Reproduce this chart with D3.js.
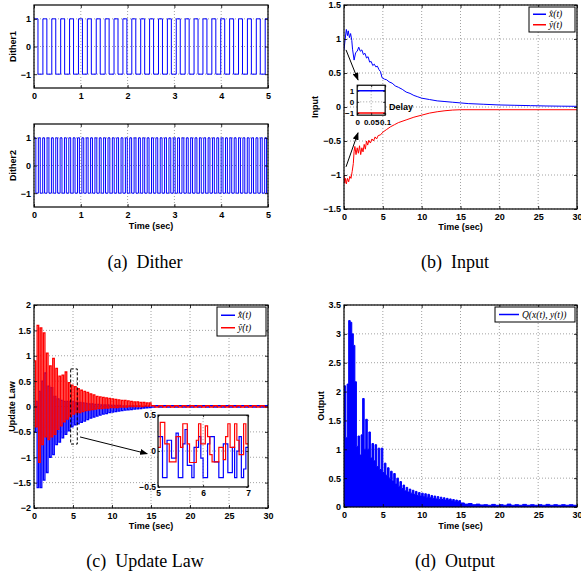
<!DOCTYPE html>
<html lang="en">
<head>
<meta charset="UTF-8">
<title>Dither, Input, Update Law, Output</title>
<script src="https://d3js.org/d3.v7.min.js"></script>
<style>
  body { margin: 0; background: #fff; }
  svg { display: block; }
  .axis-label { font: bold 9px "Liberation Sans", Arial, sans-serif; }
  .caption { font: 18px "Liberation Serif", "Times New Roman", serif; }
  .legend-text { font: italic 9.5px "Liberation Serif", "Times New Roman", serif; }
  .grid line { stroke: #8a8a8a; stroke-dasharray: 1,2; stroke-width: 0.8; }
</style>
</head>
<body>
<svg width="581" height="578"></svg>
<script>
// ---- tick labels ----
const timeTicks5 = [0, 1, 2, 3, 4, 5];
const timeTicks30 = [0, 5, 10, 15, 20, 25, 30];
const ditherTicks = [-1, 0, 1];
const inputTicks = [-1.5, -1, -0.5, 0, 0.5, 1, 1.5];
const updateTicks = [-2, -1.5, -1, -0.5, 0, 0.5, 1, 1.5, 2];
const outputTicks = [0, 0.5, 1, 1.5, 2, 2.5, 3, 3.5];
const delayTicksX = [0, 0.05, 0.1];
const delayTicksY = [-1, 0, 1];
const zoomTicksX = [5, 6, 7];
const zoomTicksY = [-0.5, 0, 0.5];

// ---- dither: switching times (signal starts at +1) ----
const dither1Edges = [0.085, 0.19, 0.275, 0.38, 0.465, 0.57, 0.655, 0.76, 0.845, 0.95, 1.035,
  1.14, 1.225, 1.33, 1.415, 1.52, 1.605, 1.71, 1.795, 1.9, 1.985, 2.09, 2.175, 2.28, 2.365,
  2.47, 2.555, 2.66, 2.745, 2.85, 2.935, 3.04, 3.125, 3.23, 3.315, 3.42, 3.505, 3.61, 3.695,
  3.8, 3.885, 3.99, 4.075, 4.18, 4.265, 4.37, 4.455, 4.56, 4.645, 4.75, 4.835, 4.94];
const dither2Edges = [0.04, 0.093, 0.133, 0.186, 0.226, 0.279, 0.319, 0.372, 0.412, 0.465, 0.505,
  0.558, 0.598, 0.651, 0.691, 0.744, 0.784, 0.837, 0.877, 0.93, 0.97, 1.023, 1.063, 1.116, 1.156,
  1.209, 1.249, 1.302, 1.342, 1.395, 1.435, 1.488, 1.528, 1.581, 1.621, 1.674, 1.714, 1.767, 1.807,
  1.86, 1.9, 1.953, 1.993, 2.046, 2.086, 2.139, 2.179, 2.232, 2.272, 2.325, 2.365, 2.418, 2.458,
  2.511, 2.551, 2.604, 2.644, 2.697, 2.737, 2.79, 2.83, 2.883, 2.923, 2.976, 3.016, 3.069, 3.109,
  3.162, 3.202, 3.255, 3.295, 3.348, 3.388, 3.441, 3.481, 3.534, 3.574, 3.627, 3.667, 3.72, 3.76,
  3.813, 3.853, 3.906, 3.946, 3.999, 4.039, 4.092, 4.132, 4.185, 4.225, 4.278, 4.318, 4.371, 4.411,
  4.464, 4.504, 4.557, 4.597, 4.65, 4.69, 4.743, 4.783, 4.836, 4.876, 4.929, 4.969];

// ---- input (b): [time, value] ----
const inputX = [[0, 0.84], [0.15, 1.0], [0.3, 1.14], [0.45, 1.05], [0.55, 1.12], [0.7, 1.02], [0.85, 1.08],
  [1.0, 0.98], [1.1, 0.85], [1.3, 0.69], [1.5, 0.8], [1.7, 0.82], [1.9, 0.88], [2.1, 0.82], [2.3, 0.84],
  [2.5, 0.77], [2.7, 0.79], [2.9, 0.72], [3.1, 0.74], [3.3, 0.66], [3.5, 0.67], [3.7, 0.61], [3.9, 0.63],
  [4.1, 0.59], [4.3, 0.6], [4.5, 0.55], [4.7, 0.52], [4.9, 0.43], [5.2, 0.41], [5.5, 0.4], [5.8, 0.37],
  [6.2, 0.35], [6.6, 0.31], [7, 0.29], [7.5, 0.26], [8, 0.22], [8.5, 0.2], [9, 0.17], [9.5, 0.15],
  [10, 0.13], [11, 0.11], [12, 0.09], [13, 0.08], [14, 0.07], [15, 0.06], [16, 0.05], [18, 0.04],
  [20, 0.03], [22, 0.025], [24, 0.02], [26, 0.015], [28, 0.012], [30, 0.01]];
const inputY = [[0, -1.0], [0.1, -1.12], [0.2, -1.05], [0.3, -1.13], [0.45, -1.05], [0.6, -1.1],
  [0.75, -1.02], [0.9, -1.05], [1.05, -0.95], [1.2, -0.83], [1.3, -0.65], [1.4, -0.58], [1.55, -0.7],
  [1.7, -0.6], [1.85, -0.68], [2.0, -0.57], [2.15, -0.7], [2.3, -0.6], [2.45, -0.66], [2.6, -0.55],
  [2.75, -0.62], [2.9, -0.5], [3.05, -0.56], [3.2, -0.49], [3.4, -0.53], [3.6, -0.47], [3.8, -0.5],
  [4.0, -0.44], [4.2, -0.47], [4.4, -0.42], [4.7, -0.41], [5, -0.37], [5.5, -0.33], [6, -0.29],
  [6.5, -0.26], [7, -0.23], [8, -0.19], [9, -0.15], [10, -0.12], [11, -0.09], [12, -0.07],
  [13, -0.055], [14, -0.045], [15, -0.04], [20, -0.04], [30, -0.04]];
const delayX = [[0, 1], [0.1, 1]];
const delayY = [[0, -1], [0.1, -1]];

// ---- update law (c): samples every 0.2 s on 0..15, then every 0.5 s on 15..30 ----
const updateRed = [0.9, -0.4, 1.6, -1.1, 1.55, -0.75, 1.45, -0.6, 1.05, -0.65, 0.8, -0.6, 0.95, -0.55,
  0.75, -0.45, 0.6, -0.38, 0.62, -0.3, 0.68, -0.25, 0.47, -0.2, 0.42, -0.15, 0.39, -0.12, 0.35, -0.12,
  0.32, -0.1, 0.3, -0.08, 0.28, -0.07, 0.25, -0.06, 0.23, -0.05, 0.2, -0.04, 0.19, -0.04, 0.18, -0.03,
  0.17, -0.03, 0.16, -0.02, 0.15, -0.02, 0.14, -0.02, 0.13, -0.01, 0.12, -0.01, 0.12, -0.01, 0.11, 0,
  0.1, 0, 0.09, 0, 0.09, 0, 0.08, 0, 0.08, 0.01, 0.07, 0.01, 0.07];
const updateBlue = [-0.5, 0.1, -1.6, 0.3, -1.6, 0.5, -1.45, 0.66, -1.3, 0.4, -1.0, 0.37, -0.95, 0.2,
  -0.75, 0.15, -0.7, 0.12, -0.62, 0.1, -0.55, 0.1, -0.48, 0.1, -0.4, 0.1, -0.36, 0.08, -0.34, 0.08,
  -0.31, 0.07, -0.29, 0.06, -0.26, 0.05, -0.23, 0.05, -0.21, 0.04, -0.19, 0.04, -0.17, 0.03, -0.15, 0.03,
  -0.14, 0.03, -0.12, 0.02, -0.11, 0.02, -0.1, 0.02, -0.09, 0.02, -0.08, 0.01, -0.07, 0.01, -0.065, 0.01,
  -0.06, 0.01, -0.05, 0.01, -0.045, 0.01, -0.04, 0, -0.03, 0, -0.025, 0, -0.02];
const updateRedTail = [0.015, -0.01, 0.015, -0.01, 0.015, -0.01, 0.015, -0.01, 0.015, -0.01, 0.015, -0.01,
  0.015, -0.01, 0.015, -0.01, 0.015, -0.01, 0.015, -0.01, 0.015, -0.01, 0.015, -0.01, 0.015, -0.01,
  0.015, -0.01, 0.015, -0.01];
const updateBlueTail = [-0.01, 0.015, -0.01, 0.015, -0.01, 0.015, -0.01, 0.015, -0.01, 0.015, -0.01, 0.015,
  -0.01, 0.015, -0.01, 0.015, -0.01, 0.015, -0.01, 0.015, -0.01, 0.015, -0.01, 0.015, -0.01, 0.015,
  -0.01, 0.015, -0.01, 0.015];
// zoomed window 5..7 s, samples every 0.05 s
const zoomRed = [0.05, 0.4, 0.4, 0.1, 0.1, -0.15, -0.15, -0.15, 0.2, 0.2, 0.05, 0.38, 0.38, 0.1, -0.16,
  -0.16, -0.16, 0.15, 0.38, 0.1, 0.1, 0.35, 0.2, -0.05, -0.15, -0.15, -0.15, 0.05, 0.05, -0.12, 0.2,
  0.38, 0.05, 0.05, 0.38, 0.15, -0.05, -0.05, 0.38, 0.1];
const zoomBlue = [0.2, 0.2, -0.37, -0.37, 0.15, 0.15, -0.1, -0.1, 0.25, -0.37, -0.37, 0.1, 0.3, -0.2,
  -0.2, -0.37, 0.05, 0.05, 0.2, -0.1, -0.37, -0.37, 0.1, 0.2, 0.2, -0.15, -0.15, -0.37, -0.37, 0.1, 0.1,
  -0.3, -0.3, 0.05, -0.37, 0.0, 0.2, -0.37, -0.25, 0.05];

// ---- output (d): samples every 0.2 s on 0..15, then every 0.5 s on 15..30 ----
const outputQ = [2.1, 1.2, 2.13, 3.23, 3.2, 3.0, 2.8, 2.17, 1.05, 1.23, 0.9, 1.25, 1.88, 1.0, 1.52, 1.0,
  1.3, 0.85, 1.1, 0.8, 1.08, 0.7, 1.02, 0.65, 1.02, 0.6, 0.76, 0.55, 0.68, 0.5, 0.62, 0.45, 0.58, 0.4,
  0.5, 0.36, 0.44, 0.32, 0.38, 0.28, 0.34, 0.26, 0.31, 0.24, 0.29, 0.22, 0.27, 0.2, 0.25, 0.19, 0.24,
  0.18, 0.23, 0.17, 0.22, 0.16, 0.2, 0.15, 0.19, 0.14, 0.18, 0.13, 0.17, 0.13, 0.16, 0.12, 0.15, 0.12,
  0.14, 0.11, 0.13, 0.1, 0.12, 0.1, 0.11];
const outputQTail = [0.07, 0.05, 0.06, 0.04, 0.05, 0.035, 0.04, 0.03, 0.045, 0.03, 0.04, 0.03, 0.05, 0.03,
  0.04, 0.03, 0.045, 0.03, 0.04, 0.03, 0.04, 0.03, 0.045, 0.03, 0.04, 0.03, 0.04, 0.03, 0.04, 0.03];

const BLUE = "#0000ff", RED = "#ff0000";
const FONT = '"Liberation Sans", Arial, sans-serif';

const svg = d3.select("svg");
const defs = svg.append("defs");
defs.append("marker")
    .attr("id", "arrow")
    .attr("markerUnits", "userSpaceOnUse")
    .attr("markerWidth", 8).attr("markerHeight", 6)
    .attr("refX", 7).attr("refY", 3)
    .attr("orient", "auto")
  .append("path")
    .attr("d", "M0,0 L8,3 L0,6 Z")
    .attr("fill", "#000");

// helpers to turn the stored values into [t, v] points
const sampled = (vals, t0, dt) => vals.map((v, i) => [t0 + i * dt, v]);
const withEnd = (pts, tEnd) => pts.concat([[tEnd, pts[pts.length - 1][1]]]);
const fromEdges = (edges, tEnd) => {
    const pts = [[0, 1]];
    edges.forEach((t, i) => pts.push([t, i % 2 === 0 ? -1 : 1]));
    return withEnd(pts, tEnd);
};

const fmt = d => String(d).replace("-", "\u2212");
let clipCount = 0;

// one MATLAB style axes: white box, dotted grid, inward ticks on all sides
const makeAxes = (o) => {
    const x = d3.scaleLinear().domain(o.xDomain).range([o.left, o.right]);
    const y = d3.scaleLinear().domain(o.yDomain).range([o.bottom, o.top]);
    const fs = o.fontSize || 9;
    const root = svg.append("g");

    root.append("rect")
        .attr("x", o.left).attr("y", o.top)
        .attr("width", o.right - o.left).attr("height", o.bottom - o.top)
        .attr("fill", "#fff");

    const grid = root.append("g").attr("class", "grid");
    grid.selectAll(".gx").data(o.gridX || o.xTicks).enter().append("line")
        .attr("x1", d => x(d)).attr("x2", d => x(d))
        .attr("y1", o.top).attr("y2", o.bottom);
    grid.selectAll(".gy").data(o.gridY || o.yTicks).enter().append("line")
        .attr("x1", o.left).attr("x2", o.right)
        .attr("y1", d => y(d)).attr("y2", d => y(d));

    const id = "clip" + (clipCount++);
    defs.append("clipPath").attr("id", id).append("rect")
        .attr("x", o.left).attr("y", o.top)
        .attr("width", o.right - o.left).attr("height", o.bottom - o.top);
    const plot = root.append("g").attr("clip-path", `url(#${id})`);
    const frame = root.append("g");

    const style = g => {
        g.attr("font-family", FONT).attr("font-size", fs).attr("font-weight", "bold");
        g.select(".domain").remove();
        g.selectAll("line").attr("stroke-width", 0.8);
    };
    const tk = o.tick || 3;
    frame.append("g").attr("transform", `translate(0,${o.bottom})`)
        .call(d3.axisBottom(x).tickValues(o.xTicks).tickSize(-tk).tickPadding(o.padX || 5).tickFormat(fmt))
        .call(style);
    frame.append("g").attr("transform", `translate(0,${o.top})`)
        .call(d3.axisTop(x).tickValues(o.xTicks).tickSize(-tk).tickFormat(""))
        .call(style);
    frame.append("g").attr("transform", `translate(${o.left},0)`)
        .call(d3.axisLeft(y).tickValues(o.yTicks).tickSize(-tk).tickPadding(o.padY || 3).tickFormat(fmt))
        .call(style);
    frame.append("g").attr("transform", `translate(${o.right},0)`)
        .call(d3.axisRight(y).tickValues(o.yTicks).tickSize(-tk).tickFormat(""))
        .call(style);

    frame.append("rect")
        .attr("x", o.left).attr("y", o.top)
        .attr("width", o.right - o.left).attr("height", o.bottom - o.top)
        .attr("fill", "none").attr("stroke", "#000").attr("stroke-width", 1.2);

    return { x, y, plot, frame, o };
};

const drawLine = (ax, pts, color, step, width) => {
    const line = d3.line().x(d => ax.x(d[0])).y(d => ax.y(d[1]));
    if (step) line.curve(d3.curveStepAfter);
    ax.plot.append("path")
        .attr("d", line(pts))
        .attr("fill", "none")
        .attr("stroke", color)
        .attr("stroke-width", width || 1);
};

const yLabel = (text, cx, cy) => {
    svg.append("text").attr("class", "axis-label")
        .attr("transform", `translate(${cx + 3},${cy}) rotate(-90)`)
        .attr("text-anchor", "middle").text(text);
};
const xLabel = (text, cx, baseline) => {
    svg.append("text").attr("class", "axis-label")
        .attr("x", cx).attr("y", baseline)
        .attr("text-anchor", "middle").text(text);
};
const caption = (tag, name, cx, baseline) => {
    svg.append("text").attr("class", "caption")
        .attr("x", cx).attr("y", baseline)
        .attr("text-anchor", "middle")
        .text(tag + "\u2002" + name);
};

// legend box placed at the top right corner of an axes
const legend = (ax, w, rowH, entries) => {
    const x0 = ax.o.right - w - 2, y0 = ax.o.top + 2;
    const g = svg.append("g");
    g.append("rect")
        .attr("x", x0).attr("y", y0)
        .attr("width", w).attr("height", rowH * entries.length + 4)
        .attr("fill", "#fff").attr("stroke", "#000").attr("stroke-width", 1);
    entries.forEach((e, i) => {
        const cy = y0 + 2 + rowH * (i + 0.5);
        g.append("line")
            .attr("x1", x0 + 4).attr("x2", x0 + 4 + e.len)
            .attr("y1", cy).attr("y2", cy)
            .attr("stroke", e.color).attr("stroke-width", 1.5);
        g.append("text").attr("class", "legend-text")
            .attr("x", x0 + 7 + e.len).attr("y", cy + 3.2)
            .text(e.label);
    });
};

const arrow = (ax, from, to) => {
    svg.append("line")
        .attr("x1", ax.x(from[0])).attr("y1", ax.y(from[1]))
        .attr("x2", ax.x(to[0])).attr("y2", ax.y(to[1]))
        .attr("stroke", "#000").attr("stroke-width", 1)
        .attr("marker-end", "url(#arrow)");
};

// ---------- (a) Dither ----------
const a1 = makeAxes({ left: 34, right: 268, top: 5, bottom: 88,
    xDomain: [0, 5], yDomain: [-1.5, 1.5], xTicks: timeTicks5, yTicks: ditherTicks });
drawLine(a1, fromEdges(dither1Edges, 5), BLUE, true);
yLabel("Dither1", 13, 46.5);

const a2 = makeAxes({ left: 34, right: 268, top: 124, bottom: 207,
    xDomain: [0, 5], yDomain: [-1.5, 1.5], xTicks: timeTicks5, yTicks: ditherTicks });
drawLine(a2, fromEdges(dither2Edges, 5), BLUE, true);
yLabel("Dither2", 13, 165.5);
xLabel("Time (sec)", 151, 228.5);
caption("(a)", "Dither", 145, 268);

// ---------- (b) Input ----------
const b = makeAxes({ left: 344, right: 577, top: 5, bottom: 209,
    xDomain: [0, 30], yDomain: [-1.5, 1.5], xTicks: timeTicks30, yTicks: inputTicks });
drawLine(b, inputX, BLUE, false);
drawLine(b, inputY, RED, false);
yLabel("Input", 315, 107);
xLabel("Time (sec)", 460.5, 230);
caption("(b)", "Input", 455, 268);
legend(b, 46, 10.5, [
    { color: BLUE, len: 13, label: "x\u0302(t)" },
    { color: RED, len: 13, label: "y\u0302(t)" }
]);

// inset: first 0.1 s (delay)
const bi = makeAxes({ left: b.x(1.7), right: b.x(5.3), top: b.y(0.32), bottom: b.y(-0.12),
    xDomain: [0, 0.1], yDomain: [-1.2, 1.5], xTicks: delayTicksX, yTicks: delayTicksY,
    gridX: [0.05], gridY: [0], fontSize: 8, tick: 2, padX: 4, padY: 3 });
drawLine(bi, delayX, BLUE, false, 1.6);
drawLine(bi, delayY, RED, false, 1.6);
svg.append("text").attr("class", "axis-label")
    .attr("x", b.x(5.8)).attr("y", b.y(0) + 3)
    .text("Delay");
arrow(b, [0.26, 0.84], [1.8, 0.4]);
arrow(b, [0.26, -0.88], [1.8, -0.38]);

// ---------- (c) Update Law ----------
const c = makeAxes({ left: 34, right: 268, top: 305, bottom: 508,
    xDomain: [0, 30], yDomain: [-2, 2], xTicks: timeTicks30, yTicks: updateTicks });
const bluePts = withEnd(sampled(updateBlue, 0, 0.2).concat(sampled(updateBlueTail, 15, 0.5)), 30);
const redPts = withEnd(sampled(updateRed, 0, 0.2).concat(sampled(updateRedTail, 15, 0.5)), 30);
drawLine(c, bluePts, BLUE, true, 1.3);
drawLine(c, redPts, RED, true, 1.3);
yLabel("Update Law", 12, 406.5);
xLabel("Time (sec)", 151, 529);
caption("(c)", "Update Law", 145, 567);
legend(c, 49, 12.5, [
    { color: BLUE, len: 14, label: "x\u0302\u0307(t)" },
    { color: RED, len: 14, label: "y\u0302\u0307(t)" }
]);

// dashed window and zoomed inset
svg.append("rect")
    .attr("x", c.x(4.7)).attr("y", c.y(0.74))
    .attr("width", c.x(5.55) - c.x(4.7)).attr("height", c.y(-0.74) - c.y(0.74))
    .attr("fill", "none").attr("stroke", "#000")
    .attr("stroke-width", 1).attr("stroke-dasharray", "3,2");
arrow(c, [5.9, -0.6], [14.5, -0.93]);

const ci = makeAxes({ left: c.x(15.9), right: c.x(27.45), top: c.y(-0.17), bottom: c.y(-1.585),
    xDomain: [5, 7], yDomain: [-0.5, 0.5], xTicks: zoomTicksX, yTicks: zoomTicksY,
    gridX: [6], gridY: [0], fontSize: 8.5, tick: 2, padX: 3, padY: 2 });
drawLine(ci, withEnd(sampled(zoomBlue, 5, 0.05), 7), BLUE, true, 1.2);
drawLine(ci, withEnd(sampled(zoomRed, 5, 0.05), 7), RED, true, 1.2);

// ---------- (d) Output ----------
const d = makeAxes({ left: 344, right: 577, top: 305, bottom: 507,
    xDomain: [0, 30], yDomain: [0, 3.5], xTicks: timeTicks30, yTicks: outputTicks });
const qPts = withEnd(sampled(outputQ, 0, 0.2).concat(sampled(outputQTail, 15, 0.5)), 30);
d.plot.append("path")
    .attr("d", d3.area().curve(d3.curveStepAfter)
        .x(p => d.x(p[0])).y0(d.y(0)).y1(p => d.y(p[1]))(qPts))
    .attr("fill", BLUE);
drawLine(d, qPts, BLUE, true);
yLabel("Output", 321, 406);
xLabel("Time (sec)", 460.5, 529);
caption("(d)", "Output", 455, 567);
legend(d, 80, 11, [
    { color: BLUE, len: 20, label: "Q(x(t), y(t))" }
]);
</script>
</body>
</html>
